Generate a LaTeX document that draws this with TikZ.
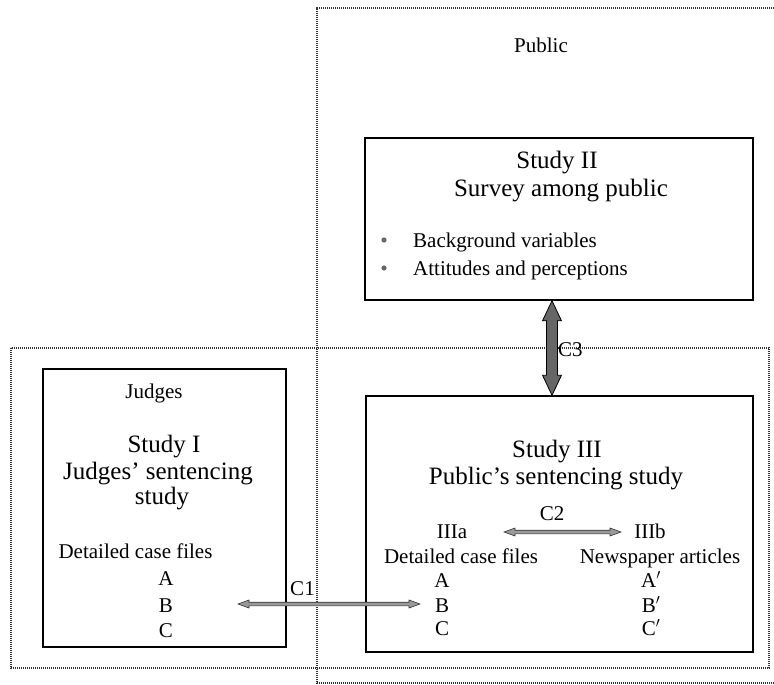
\documentclass[tikz,border=0pt]{standalone}
\usepackage{fontspec}
\setmainfont{Liberation Serif}
\usetikzlibrary{calc}

% horizontal double-headed block arrow between two named points
% #1 style, #2 left end, #3 right end, #4 half shaft, #5 half head, #6 head length
\newcommand\dblarrowH[6]{%
  \filldraw[#1] (#2) -- ($(#2)+(#6,-#5)$) -- ($(#2)+(#6,-#4)$) -- ($(#3)+(-#6,-#4)$)
    -- ($(#3)+(-#6,-#5)$) -- (#3) -- ($(#3)+(-#6,#5)$) -- ($(#3)+(-#6,#4)$)
    -- ($(#2)+(#6,#4)$) -- ($(#2)+(#6,#5)$) -- cycle;}
% vertical double-headed block arrow, #2 upper end, #3 lower end
\newcommand\dblarrowV[6]{%
  \filldraw[#1] (#2) -- ($(#2)+(-#5,#6)$) -- ($(#2)+(-#4,#6)$) -- ($(#3)+(-#4,-#6)$)
    -- ($(#3)+(-#5,-#6)$) -- (#3) -- ($(#3)+(#5,-#6)$) -- ($(#3)+(#4,-#6)$)
    -- ($(#2)+(#4,#6)$) -- ($(#2)+(#5,#6)$) -- cycle;}

\begin{document}
\begin{tikzpicture}[x=1pt,y=-1pt,
  big/.style={font=\fontsize{25}{27}\selectfont, anchor=base, inner sep=0pt},
  small/.style={font=\fontsize{21}{26}\selectfont, anchor=base, inner sep=0pt},
  solidbox/.style={draw=black, line width=1.5pt, inner sep=0pt},
  dotbox/.style={draw=black!80, line width=1.2pt, dash pattern=on 1.2pt off 0.8pt},
  heavylink/.style={draw=black, line width=0.8pt, fill=black!60},
  lightlink/.style={draw=black!80, line width=0.6pt, fill=black!40}]
\useasboundingbox (0,0) rectangle (774,685);

% population regions
\draw[dotbox] (774,8) -| (317,683) -- (774,683);
\draw[dotbox] (11,348) rectangle (769,668);
\node[small] (public) at (541,53) {Public};

% study boxes
\node[solidbox, minimum width=243pt, minimum height=278pt] (s1) at (164.5,508) {};
\node[solidbox, minimum width=388pt, minimum height=162pt] (s2) at (559,219) {};
\node[solidbox, minimum width=387pt, minimum height=256pt] (s3) at (559.5,524) {};

% Study I
\node[small] (judges) at (154,398) {Judges};
\node[big] (s1t1) at (164,452) {Study I};
\node[big] (s1t2) at (158,479) {Judges’ sentencing};
\node[big] (s1t3) at (162,504) {study};
\node[small] (s1files) at (135.5,558) {Detailed case files};
\node[small] (s1a) at (166,585) {A};
\node[small] (s1b) at (166,612) {B};
\node[small] (s1c) at (166,637) {C};

% Study II
\node[big] (s2t1) at (557,168) {Study II};
\node[big] (s2t2) at (561,196) {Survey among public};
\node[small, anchor=base west] (bg) at (413,247) {Background variables};
\node[small, anchor=base west] (att) at (413,275) {Attitudes and perceptions};
\fill[black!60] (384,240) circle (2.6pt);
\fill[black!60] (384,268) circle (2.6pt);

% Study III
\node[big] (s3t1) at (557,457) {Study III};
\node[big] (s3t2) at (556,484) {Public’s sentencing study};
\node[small] (s3a) at (452,538) {IIIa};
\node[small] (s3b) at (650,538) {IIIb};
\node[small] (s3files) at (461,563) {Detailed case files};
\node[small] (s3news) at (660,563) {Newspaper articles};
\node[small] (s3aa) at (442,587) {A};
\node[small] (s3ab) at (442,612) {B};
\node[small] (s3ac) at (442,635) {C};
\node[small] (s3ba) at (651,587) {A$'$};
\node[small] (s3bb) at (651,612) {B$'$};
\node[small] (s3bc) at (651,635) {C$'$};

% comparisons
\coordinate (c3x) at (552,0);
\coordinate (c3top) at (s2.south -| c3x);
\coordinate (c3bot) at (s3.north -| c3x);
\dblarrowV{heavylink}{c3top}{c3bot}{5.5}{9.5}{20}
\node[small, anchor=base west] (c3) at (558,356) {C3};

\coordinate (c1l) at (238,604);
\coordinate (c1r) at (420,604);
\dblarrowH{lightlink}{c1l}{c1r}{1.8}{4}{11}
\node[small] (c1) at (302.5,595) {C1};

\coordinate (c2l) at (504,532);
\coordinate (c2r) at (621,532);
\dblarrowH{lightlink}{c2l}{c2r}{1.8}{4}{11}
\node[small] (c2) at (552,520) {C2};
\end{tikzpicture}
\end{document}
